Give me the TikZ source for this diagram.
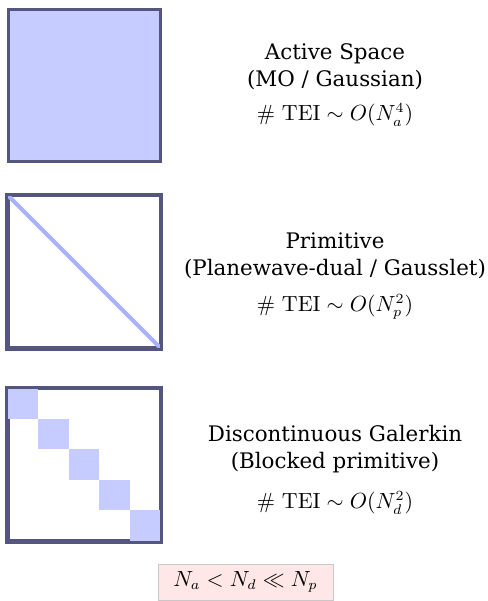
\documentclass[tikz,border=0pt]{standalone}
\usepackage{amsmath, amssymb}
\usepackage[no-math]{fontspec}
\setmainfont{DejaVu Serif}
\usepackage{tikz}
\usetikzlibrary{positioning}

\definecolor{matedge}{RGB}{84,86,128}
\definecolor{matfill}{RGB}{198,204,255}
\definecolor{matdiag}{RGB}{170,178,255}
\definecolor{notefill}{RGB}{255,231,231}
\definecolor{noteedge}{RGB}{200,200,200}

\begin{document}
\begin{tikzpicture}[x=0.5pt, y=-0.5pt,
		matbox/.style={draw=matedge, line width=1.5pt, minimum size=76pt, inner sep=0},
		label/.style={align=center, font=\fontsize{10.7}{13.5}\selectfont, inner sep=0}]
		\useasboundingbox (0,0) rectangle (488,601);
		% Active space: full matrix
		\node[matbox, fill=matfill] (active) at (84,85) {};
		\node[label] (activetxt) at (335,67) {Active Space\\(MO / Gaussian)};
		\node[label] (activetei) at (335,115) {$\#\ \mathrm{TEI} \sim O(N_a^4)$};
		% Primitive: diagonal only
		\node[matbox] (prim) at (84,271.5) {};
		\draw[matdiag, line width=2pt] (prim.north west) -- (prim.south east);
		\draw[matedge, line width=1.5pt] (prim.north west) rectangle (prim.south east);
		\node[label] (primtxt) at (335,256) {Primitive\\(Planewave-dual / Gausslet)};
		\node[label] (primtei) at (335,307) {$\#\ \mathrm{TEI} \sim O(N_p^2)$};
		% Discontinuous Galerkin: blocks on the diagonal
		\node[matbox] (dg) at (84,464.5) {};
		\foreach \i in {0,...,4}
			\fill[matfill] (8+30.4*\i, 388+30.6*\i) rectangle ++(30.4,30.6);
		\draw[matedge, line width=1.5pt] (dg.north west) rectangle (dg.south east);
		\node[label] (dgtxt) at (335,449) {Discontinuous Galerkin\\(Blocked primitive)};
		\node[label] (dgtei) at (335,503) {$\#\ \mathrm{TEI} \sim O(N_d^2)$};
		% Sizes
		\node[draw=noteedge, fill=notefill, minimum width=87.5pt, minimum height=18pt, font=\fontsize{10.7}{13}\selectfont] (sizes) at (245.5,582) {$N_a < N_d \ll N_p$};
	\end{tikzpicture}
\end{document}
